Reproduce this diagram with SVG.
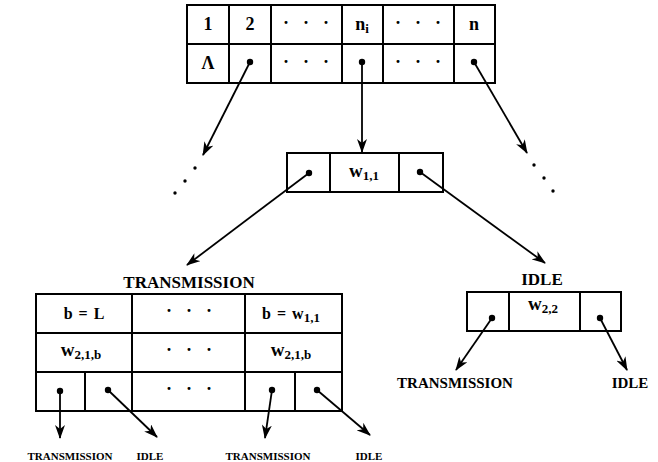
<svg xmlns="http://www.w3.org/2000/svg" width="658" height="462" viewBox="0 0 658 462">
<defs>
<marker id="ah" markerUnits="userSpaceOnUse" markerWidth="14" markerHeight="10" refX="13" refY="5" orient="auto">
<path d="M0,0 L14,5 L0,10 L4,5 z" fill="#000"/>
</marker>
<marker id="dot" markerUnits="userSpaceOnUse" markerWidth="8" markerHeight="8" refX="4" refY="4">
<circle cx="4" cy="4" r="3.2" fill="#000"/>
</marker>
<style>
.c{fill:#fff;stroke:#000;stroke-width:2}
.ln{stroke:#000;stroke-width:2;fill:none}
.l{stroke:#000;stroke-width:1.8;fill:none;marker-start:url(#dot);marker-end:url(#ah)}
text{font-family:"Liberation Serif","Times New Roman",serif;font-weight:bold;fill:#000;text-anchor:middle}
.big{font-size:18px}
.w{font-size:19px}
.sm{font-size:16px;word-spacing:2px}
.sub{font-size:13px}
.hd{font-size:17px}
.rl{font-size:15px}
.bl{font-size:11px}
.el{fill:#000}
</style>
</defs>

<g id="top-table">
<rect class="c" x="187" y="5" width="308" height="78"/>
<path class="ln" d="M187,44H495M229,5V83M271,5V83M342,5V83M383,5V83M454,5V83"/>
<text class="big" x="208" y="30">1</text>
<text class="big" x="250" y="30">2</text>
<text class="big" x="286 306 326" y="29">···</text>
<text class="big" x="362" y="30">n<tspan class="sub" dy="3">i</tspan></text>
<text class="big" x="398 418 438" y="29">···</text>
<text class="big" x="474" y="30">n</text>
<text class="big" x="208" y="69">Λ</text>
<text class="big" x="286 306 326" y="68">···</text>
<text class="big" x="398 418 438" y="68">···</text>
</g>

<g id="left-ellipsis">
<circle class="el" cx="195" cy="168" r="1.7"/>
<circle class="el" cx="185" cy="181" r="1.7"/>
<circle class="el" cx="175" cy="193" r="1.7"/>
</g>
<g id="right-ellipsis">
<circle class="el" cx="534" cy="165" r="1.7"/>
<circle class="el" cx="544" cy="178" r="1.7"/>
<circle class="el" cx="553" cy="191" r="1.7"/>
</g>

<g id="node-w11">
<rect class="c" x="287" y="153" width="156" height="39"/>
<path class="ln" d="M330,153V192M399,153V192"/>
<text class="w" x="364" y="177">w<tspan class="sub" dy="3">1,1</tspan></text>
</g>

<g id="transmission-table">
<text class="hd" x="189" y="288">TRANSMISSION</text>
<rect class="c" x="36" y="294" width="306" height="117"/>
<path class="ln" d="M36,333H342M36,372H342M132,294V411M245,294V411M85,372V411M295,372V411"/>
<text class="sm" x="84" y="319">b = L</text>
<text class="big" x="169 189 209" y="317">···</text>
<text class="sm" x="291" y="319">b = w<tspan class="sub" dy="3">1,1</tspan></text>
<text class="w" x="81" y="356">w<tspan class="sub" dy="3">2,1,b</tspan></text>
<text class="big" x="169 189 209" y="356">···</text>
<text class="w" x="291" y="356">w<tspan class="sub" dy="3">2,1,b</tspan></text>
<text class="big" x="169 189 209" y="395">···</text>
</g>

<g id="idle-node">
<text class="hd" x="542" y="285">IDLE</text>
<rect class="c" x="467" y="292" width="154" height="39"/>
<path class="ln" d="M509,292V331M580,292V331"/>
<text class="w" x="543" y="310">w<tspan class="sub" dy="3">2,2</tspan></text>
</g>

<g id="labels">
<text class="rl" x="455" y="388">TRANSMISSION</text>
<text class="rl" x="630" y="388">IDLE</text>
<text class="bl" x="70" y="460">TRANSMISSION</text>
<text class="bl" x="150" y="460">IDLE</text>
<text class="bl" x="268" y="460">TRANSMISSION</text>
<text class="bl" x="369" y="460">IDLE</text>
</g>

<g id="connectors">
<line class="l" x1="250" y1="62" x2="203" y2="155"/>
<line class="l" x1="362" y1="62" x2="362" y2="152"/>
<line class="l" x1="474" y1="62" x2="527" y2="153"/>
<line class="l" x1="309" y1="173" x2="187" y2="265"/>
<line class="l" x1="420" y1="172" x2="545" y2="263"/>
<line class="l" x1="492" y1="318" x2="456" y2="370"/>
<line class="l" x1="600" y1="318" x2="627" y2="370"/>
<line class="l" x1="60" y1="391" x2="60" y2="438"/>
<line class="l" x1="108" y1="390" x2="157" y2="437"/>
<line class="l" x1="272" y1="390" x2="265" y2="438"/>
<line class="l" x1="317" y1="390" x2="370" y2="435"/>
</g>
</svg>
